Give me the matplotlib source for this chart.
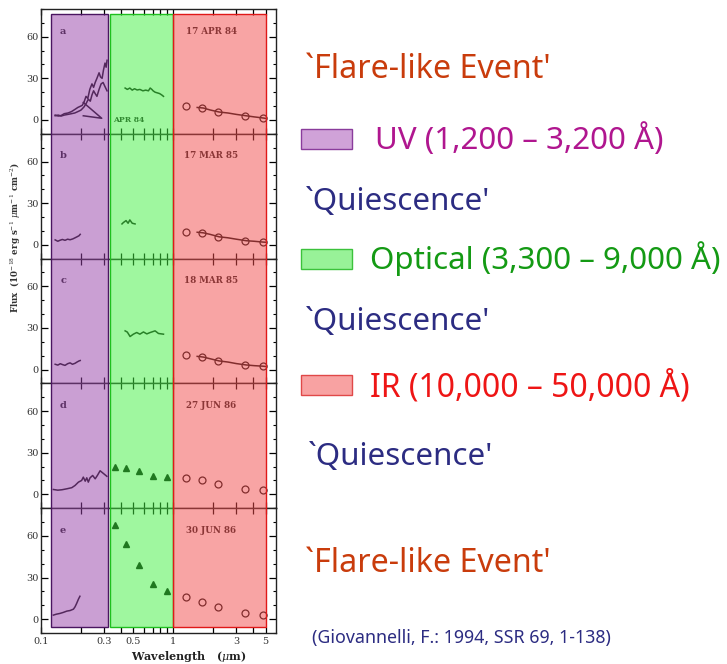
import matplotlib
matplotlib.use("Agg")
import matplotlib.pyplot as plt
from matplotlib.ticker import FixedLocator, FixedFormatter, NullLocator, MultipleLocator
from matplotlib.patches import Rectangle

# ---------------- data ----------------
panel_letters = ["a", "b", "c", "d", "e"]
panel_dates = ["17 APR 84", "17 MAR 85", "18 MAR 85", "27 JUN 86", "30 JUN 86"]

# UV spectra (wavelength in micron, flux)
uv_a1_wl = [0.128, 0.135, 0.142, 0.150, 0.160, 0.170, 0.180, 0.190, 0.200, 0.205, 0.212, 0.219, 0.226,
            0.234, 0.243, 0.250, 0.257, 0.265, 0.275, 0.282, 0.290, 0.297, 0.305, 0.311, 0.316]
uv_a1_fl = [3.5, 2.8, 3.2, 4.5, 5.0, 6.0, 7.5, 9.0, 10.0, 10.5, 13.0, 17.0, 15.5,
            22.0, 26.0, 23.5, 27.0, 30.0, 34.0, 31.0, 30.0, 36.0, 41.0, 38.0, 43.0]
uv_a2_wl = [0.128, 0.135, 0.142, 0.150, 0.160, 0.170, 0.180, 0.190, 0.200, 0.205, 0.212, 0.220,
            0.228, 0.236, 0.243, 0.250, 0.257, 0.265, 0.275, 0.285, 0.295, 0.305, 0.316]
uv_a2_fl = [3.0, 3.5, 2.8, 3.5, 4.0, 4.5, 5.0, 6.0, 7.0, 8.0, 9.5, 12.0,
            15.0, 13.5, 18.0, 21.0, 19.0, 17.0, 22.0, 26.0, 27.0, 24.0, 21.0]
uv_b_wl = [0.128, 0.134, 0.139, 0.145, 0.152, 0.159, 0.166, 0.174, 0.181, 0.188, 0.194, 0.198]
uv_b_fl = [3.5, 2.5, 3.2, 3.8, 3.2, 4.0, 3.6, 4.2, 5.0, 5.8, 6.5, 7.5]
uv_c_wl = [0.128, 0.134, 0.140, 0.146, 0.152, 0.159, 0.166, 0.173, 0.181, 0.188, 0.194, 0.198]
uv_c_fl = [3.8, 3.2, 4.2, 3.5, 3.0, 4.2, 4.8, 3.8, 4.5, 5.5, 6.2, 6.5]
uv_d_wl = [0.124, 0.134, 0.144, 0.157, 0.171, 0.181, 0.192, 0.203, 0.209, 0.216, 0.222,
           0.228, 0.235, 0.246, 0.257, 0.267, 0.280, 0.297, 0.315]
uv_d_fl = [3.5, 3.0, 3.3, 4.0, 4.8, 6.4, 8.8, 10.0, 12.4, 9.5, 11.9,
           8.8, 11.9, 13.6, 11.2, 13.6, 17.0, 15.0, 13.0]
uv_e_wl = [0.124, 0.131, 0.139, 0.147, 0.157, 0.166, 0.176, 0.181, 0.186, 0.192, 0.197]
uv_e_fl = [2.9, 3.6, 4.1, 4.8, 5.8, 6.2, 7.2, 8.9, 11.3, 14.4, 16.5]

# optical spectra
opt_a_wl = [0.433, 0.45, 0.47, 0.49, 0.51, 0.534, 0.56, 0.59, 0.62, 0.65, 0.67, 0.69, 0.705,
            0.73, 0.76, 0.79, 0.82, 0.845]
opt_a_fl = [23.0, 22.0, 23.0, 21.5, 22.5, 21.6, 22.0, 21.0, 21.5, 21.0, 23.0, 22.0, 21.0,
            20.0, 19.5, 19.0, 18.0, 17.0]
opt_b_wl = [0.41, 0.42, 0.44, 0.456, 0.47, 0.49, 0.515]
opt_b_fl = [15.0, 16.0, 17.4, 15.5, 17.9, 15.5, 15.0]
opt_c_wl = [0.433, 0.45, 0.472, 0.50, 0.53, 0.56, 0.596, 0.632, 0.67, 0.73, 0.774, 0.845]
opt_c_fl = [27.9, 27.0, 23.8, 25.5, 26.7, 25.5, 27.1, 25.7, 26.7, 27.9, 26.0, 25.5]

# optical photometry (triangles)
opt_phot_wl = [0.36, 0.44, 0.55, 0.70, 0.90]
opt_phot_d = [20.0, 19.0, 16.9, 13.3, 12.4]
opt_phot_e = [68.0, 54.0, 39.0, 25.0, 20.6]

# IR photometry (circles) and IR connecting curves
ir_wl = [1.25, 1.65, 2.2, 3.5, 4.8]
ir_a = [10.0, 8.6, 5.7, 3.0, 1.4]
ir_b = [9.5, 8.6, 5.7, 2.9, 1.9]
ir_c = [10.5, 9.0, 6.2, 3.3, 2.4]
ir_d = [11.7, 10.0, 7.1, 4.0, 3.1]
ir_e = [15.8, 12.5, 8.9, 4.6, 2.9]
ir_line_wl = [1.52, 1.69, 1.9, 2.23, 2.6, 3.0, 3.57, 4.1, 4.8, 5.0]
ir_line_a = [9.0, 8.6, 7.2, 5.7, 5.0, 4.0, 3.0, 2.2, 1.4, 1.1]
ir_line_b = [9.0, 8.6, 7.5, 5.7, 5.0, 4.0, 2.9, 2.5, 1.9, 1.8]
ir_line_c = [9.5, 9.0, 7.8, 6.2, 5.4, 4.3, 3.3, 2.8, 2.4, 2.2]

# pointer lines in panel a
ptr_wl = [0.209, 0.288, 0.209]
ptr_fl = [12.6, 1.2, 3.0]

# spectral bands (micron)
band_names = ["UV", "Optical", "IR"]
band_lo = [0.12, 0.33, 1.0]
band_hi = [0.32, 1.0, 5.0]

xtick_pos = [0.1, 0.2, 0.3, 0.4, 0.5, 0.6, 0.7, 0.8, 0.9, 1, 2, 3, 4, 5]
xtick_lab = ["0.1", "", "0.3", "", "0.5", "", "", "", "", "1", "", "3", "", "5"]
ytick_pos = [0, 30, 60]
ytick_lab = ["0", "30", "60"]

legend_texts = ["`Flare-like Event'", "UV (1,200 \u2013 3,200 \u00c5)", "`Quiescence'",
                "Optical (3,300 \u2013 9,000 \u00c5)", "`Quiescence'",
                "IR (10,000 \u2013 50,000 \u00c5)", "`Quiescence'", "`Flare-like Event'"]
citation = "(Giovannelli, F.: 1994, SSR 69, 1-138)"

# ---------------- figure ----------------
W, H = 727, 664
fig = plt.figure(figsize=(W / 100, H / 100), dpi=100)
fig.patch.set_facecolor("white")
plt.rcParams["mathtext.fontset"] = "dejavuserif"

def fx(px):
    return px / W

def fy(py):
    return 1 - py / H

ax_left, ax_right = 41, 276
top, bot = 9, 633
ph = (bot - top) / 5.0
serif = "DejaVu Serif"

axes = []
for i in range(5):
    y0 = top + ph * (i + 1)
    ax = fig.add_axes([fx(ax_left), fy(y0), fx(ax_right - ax_left), ph / H])
    ax.set_xscale("log")
    ax.set_xlim(0.1, 6.0)
    ax.set_ylim(-10, 80)
    ax.xaxis.set_major_locator(FixedLocator(xtick_pos))
    ax.xaxis.set_minor_locator(NullLocator())
    if i == 4:
        ax.xaxis.set_major_formatter(FixedFormatter(xtick_lab))
    else:
        ax.xaxis.set_major_formatter(FixedFormatter([""] * len(xtick_pos)))
    ax.yaxis.set_major_locator(FixedLocator(ytick_pos))
    ax.yaxis.set_major_formatter(FixedFormatter(ytick_lab))
    ax.yaxis.set_minor_locator(MultipleLocator(10))
    ax.tick_params(axis="x", which="major", direction="in", top=True, bottom=True,
                   length=4.5, width=0.9, labelsize=7, pad=3)
    ax.tick_params(axis="y", which="major", direction="in", left=True, right=True,
                   length=5, width=0.9, labelsize=7, pad=1.5)
    ax.tick_params(axis="y", which="minor", direction="in", left=True, right=True,
                   length=2.5, width=0.8)
    for lab in ax.get_xticklabels() + ax.get_yticklabels():
        lab.set_family(serif)
        lab.set_color("#333333")
    for s in ax.spines.values():
        s.set_linewidth(1.0)
        s.set_color("#222222")
    ax.text(0.147, 64, panel_letters[i], family=serif, fontsize=7, fontweight="bold",
            ha="center", va="center", color="#222222")
    ax.text(1.94, 64, panel_dates[i], family=serif, fontsize=6.3, fontweight="bold",
            ha="center", va="center", color="#222222")
    axes.append(ax)

lk = dict(color="#111111", lw=1.1)
mk_c = dict(ls="none", marker="o", ms=5, mfc="none", mec="#111111", mew=0.9)
mk_t = dict(ls="none", marker="^", ms=4.5, mfc="#000000", mec="#000000")

a, b, c, d, e = axes
a.plot(uv_a1_wl, uv_a1_fl, **lk)
a.plot(uv_a2_wl, uv_a2_fl, **lk)
a.plot(ptr_wl, ptr_fl, **lk)
a.text(0.35, 0, "APR 84", family=serif, fontsize=5.5, fontweight="bold", ha="left",
       va="center", color="#222222")
a.plot(opt_a_wl, opt_a_fl, **lk)
a.plot(ir_line_wl, ir_line_a, **lk)
a.plot(ir_wl, ir_a, **mk_c)

b.plot(uv_b_wl, uv_b_fl, **lk)
b.plot(opt_b_wl, opt_b_fl, **lk)
b.plot(ir_line_wl, ir_line_b, **lk)
b.plot(ir_wl, ir_b, **mk_c)

c.plot(uv_c_wl, uv_c_fl, **lk)
c.plot(opt_c_wl, opt_c_fl, **lk)
c.plot(ir_line_wl, ir_line_c, **lk)
c.plot(ir_wl, ir_c, **mk_c)

d.plot(uv_d_wl, uv_d_fl, **lk)
d.plot(opt_phot_wl, opt_phot_d, **mk_t)
d.plot(ir_wl, ir_d, **mk_c)

e.plot(uv_e_wl, uv_e_fl, **lk)
e.plot(opt_phot_wl, opt_phot_e, **mk_t)
e.plot(ir_wl, ir_e, **mk_c)

e.set_xlabel(r"Wavelength   ($\mu$m)", family=serif, fontsize=8, fontweight="bold",
             color="#222222")
e.xaxis.set_label_coords((189 - ax_left) / (ax_right - ax_left), -(656 - bot) / ph)
e.xaxis.label.set_va("center")

fig.text(fx(16), fy(237),
         r"Flux  (10$^{-18}$ erg s$^{-1}$ $\mu$m$^{-1}$ cm$^{-2}$)",
         rotation=90, ha="center", va="center", family=serif, fontsize=6.2,
         fontweight="bold", color="#333333")

# colored band overlay (drawn on top, semi-transparent)
ov = fig.add_axes([fx(ax_left), fy(bot), fx(ax_right - ax_left), (bot - top) / H], zorder=10)
ov.set_xscale("log")
ov.set_xlim(0.1, 6.0)
ov.set_ylim(0, 1)
ov.axis("off")
ov.patch.set_alpha(0)
band_fill = [(0.59, 0.25, 0.66, 0.5), (0.25, 0.94, 0.25, 0.5), (0.95, 0.29, 0.29, 0.5)]
band_edge = ["#4a1560", "#1fbf1f", "#e01818"]
yb0, yb1 = (bot - 627) / (bot - top), (bot - 14) / (bot - top)
for lo, hi, fc, ec in zip(band_lo, band_hi, band_fill, band_edge):
    ov.add_patch(Rectangle((lo, yb0), hi - lo, yb1 - yb0, facecolor=fc, edgecolor=ec, lw=1.0))

# right-hand annotations
tf = ["Noto Sans", "DejaVu Sans"]
col_flare = "#c93c0c"
col_quie = "#2c2c82"
fs = 22.5
fig.text(fx(305), fy(70), legend_texts[0], family=tf, fontsize=23.2, color=col_flare, va="center")
fig.text(fx(375), fy(140), legend_texts[1], family=tf, fontsize=fs, color="#b0168f", va="center")
fig.text(fx(305), fy(202), legend_texts[2], family=tf, fontsize=fs, color=col_quie, va="center")
fig.text(fx(370), fy(259), legend_texts[3], family=tf, fontsize=fs, color="#149a14", va="center")
fig.text(fx(305), fy(322), legend_texts[4], family=tf, fontsize=fs, color=col_quie, va="center")
fig.text(fx(370), fy(388), legend_texts[5], family=tf, fontsize=23, color="#ee1515", va="center")
fig.text(fx(308), fy(457), legend_texts[6], family=tf, fontsize=fs, color=col_quie, va="center")
fig.text(fx(305), fy(563), legend_texts[7], family=tf, fontsize=23.2, color=col_flare, va="center")
fig.text(fx(312), fy(638), citation, family=tf, fontsize=12.8, color=col_quie, va="center")

sw_fill = ["#d0a2d8", "#98f298", "#f8a2a2"]
sw_edge = ["#8a3c9c", "#3cc23c", "#e04848"]
sw_y = [139, 259, 385]
for fcol, ecol, yy in zip(sw_fill, sw_edge, sw_y):
    fig.add_artist(Rectangle((fx(301), fy(yy + 10)), fx(51), 20 / H, transform=fig.transFigure,
                             facecolor=fcol, edgecolor=ecol, lw=1.0))

fig.savefig("out.png", dpi=100)
